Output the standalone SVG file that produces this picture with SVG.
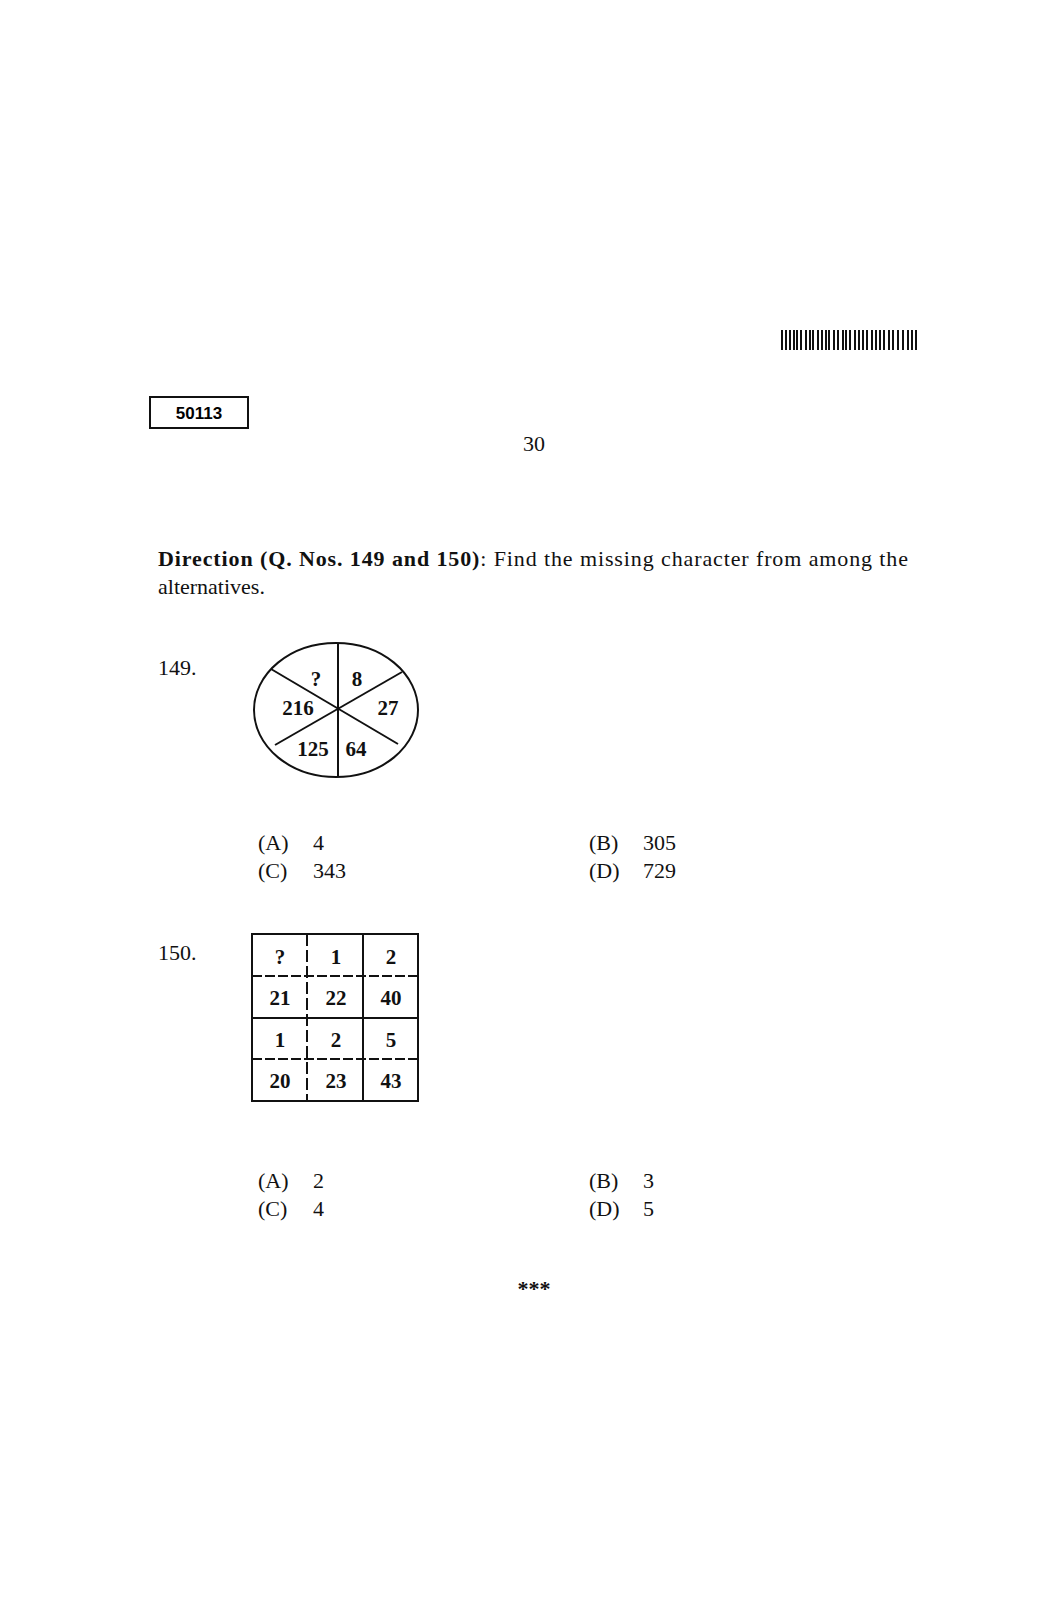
<svg xmlns="http://www.w3.org/2000/svg" width="1058" height="1605" viewBox="0 0 1058 1605">
<style>
.t{font-family:"Liberation Serif",serif;font-size:22px;fill:#111}
.d{font-family:"Liberation Serif",serif;font-size:21px;font-weight:bold;fill:#111;text-anchor:middle}
.l{stroke:#111;stroke-width:2;fill:none}
</style>
<rect width="1058" height="1605" fill="#fff"/>
<g id="barcode" stroke="#111" stroke-width="2">
<path d="M782 330v20M786 330v20M790 330v20M794 330v20M797 330v20M801 330v20M806 330v20M810 330v20M813 330v20M818 330v20M822 330v20M826 330v20M829 330v20M834 330v20M838 330v20M843 330v20M846 330v20M850 330v20M855 330v20M859 330v20M863 330v20M867 330v20M872 330v20M876 330v20M880 330v20M884 330v20M889 330v20M893 330v20M898 330v20M903 330v20M908 330v20M912 330v20M916 330v20"/>
</g>
<g id="code"><rect x="150" y="397" width="98" height="31" class="l" stroke-width="1.5"/>
<text x="199" y="419" font-family="Liberation Sans,sans-serif" font-size="17" font-weight="bold" text-anchor="middle">50113</text></g>
<text class="t" x="534" y="451" text-anchor="middle">30</text>
<text class="t" x="158" y="566" textLength="750"><tspan font-weight="bold">Direction (Q. Nos. 149 and 150)</tspan>: Find the missing character from among the</text>
<text class="t" x="158" y="594">alternatives.</text>
<text class="t" x="158" y="675">149.</text>
<g id="q149">
<ellipse cx="336" cy="710" rx="82" ry="67" class="l"/>
<line x1="338" y1="643" x2="338" y2="777" class="l"/>
<line x1="271" y1="669" x2="398" y2="744" class="l"/>
<line x1="402" y1="672" x2="275" y2="745" class="l"/>
<text class="d" x="316" y="686" font-size="18">?</text>
<text class="d" x="357" y="686">8</text>
<text class="d" x="298" y="715">216</text>
<text class="d" x="388" y="715">27</text>
<text class="d" x="313" y="756">125</text>
<text class="d" x="356" y="756">64</text>
</g>
<g id="opts149">
<text class="t" x="258" y="850">(A)</text><text class="t" x="313" y="850">4</text>
<text class="t" x="589" y="850">(B)</text><text class="t" x="643" y="850">305</text>
<text class="t" x="258" y="878">(C)</text><text class="t" x="313" y="878">343</text>
<text class="t" x="589" y="878">(D)</text><text class="t" x="643" y="878">729</text>
</g>
<text class="t" x="158" y="960">150.</text>
<g id="q150">
<rect x="252" y="934" width="166" height="167" class="l"/>
<line x1="252" y1="976" x2="418" y2="976" class="l" stroke-dasharray="10 3"/>
<line x1="252" y1="1018" x2="418" y2="1018" class="l"/>
<line x1="252" y1="1059" x2="418" y2="1059" class="l" stroke-dasharray="10 3"/>
<line x1="307" y1="934" x2="307" y2="1101" class="l" stroke-dasharray="12 4"/>
<line x1="363" y1="934" x2="363" y2="1101" class="l"/>
<text class="d" x="280" y="964">?</text><text class="d" x="336" y="964">1</text><text class="d" x="391" y="964">2</text>
<text class="d" x="280" y="1005">21</text><text class="d" x="336" y="1005">22</text><text class="d" x="391" y="1005">40</text>
<text class="d" x="280" y="1047">1</text><text class="d" x="336" y="1047">2</text><text class="d" x="391" y="1047">5</text>
<text class="d" x="280" y="1088">20</text><text class="d" x="336" y="1088">23</text><text class="d" x="391" y="1088">43</text>
</g>
<g id="opts150">
<text class="t" x="258" y="1188">(A)</text><text class="t" x="313" y="1188">2</text>
<text class="t" x="589" y="1188">(B)</text><text class="t" x="643" y="1188">3</text>
<text class="t" x="258" y="1216">(C)</text><text class="t" x="313" y="1216">4</text>
<text class="t" x="589" y="1216">(D)</text><text class="t" x="643" y="1216">5</text>
</g>
<text class="t" x="534" y="1296" text-anchor="middle" font-weight="bold">***</text>
</svg>
